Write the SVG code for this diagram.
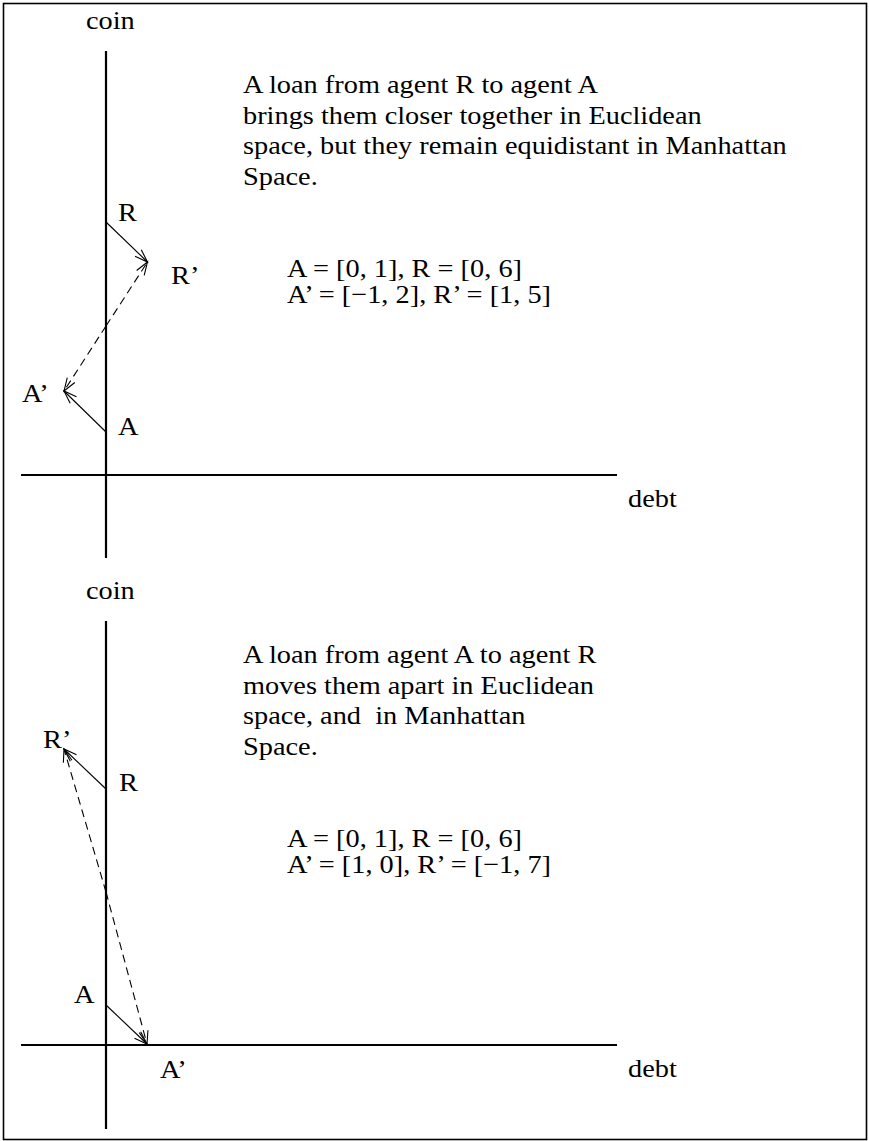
<svg xmlns="http://www.w3.org/2000/svg" width="869" height="1141" viewBox="0 0 869 1141">
<style>
text{font-family:"Liberation Serif","Times New Roman",serif;font-size:26px;fill:#000}
.axis{stroke:#000;stroke-width:2.2;fill:none}
.arr{stroke:#000;stroke-width:1.1;fill:none;marker-end:url(#ah)}
.dash{stroke:#000;stroke-width:1.1;fill:none;stroke-dasharray:8 5;marker-end:url(#ah)}
</style>
<defs>
<marker id="ah" markerUnits="userSpaceOnUse" markerWidth="16" markerHeight="12" viewBox="-1 -6 16 12" refX="13" refY="0" orient="auto">
<path d="M0,-4.5 L13,0 L0,4.5" fill="none" stroke="#000" stroke-width="1.1"/>
</marker>
</defs>
<rect x="3.5" y="3.5" width="863" height="1136" fill="#fff" stroke="#000" stroke-width="1.6"/>
<g id="panel1">
<g id="axes1">
<line class="axis" x1="106" y1="51" x2="106" y2="558"/>
<line class="axis" x1="21" y1="475" x2="617" y2="475"/>
<text transform="translate(86 29) scale(1.09 1)">coin</text>
<text transform="translate(628 507) scale(1.09 1)">debt</text>
</g>
<g id="node-R1"><text transform="translate(118 221) scale(1.09 1)">R</text></g>
<g id="node-Rp1"><text transform="translate(171 284) scale(1.09 1)">R’</text></g>
<g id="node-Ap1"><text transform="translate(22 402) scale(1.09 1)">A’</text></g>
<g id="node-A1"><text transform="translate(118 435) scale(1.09 1)">A</text></g>
<g id="desc1">
<text transform="translate(243 93) scale(1.09 1)">A loan from agent R to agent A</text>
<text transform="translate(243 123.5) scale(1.09 1)">brings them closer together in Euclidean</text>
<text transform="translate(243 154) scale(1.09 1)">space, but they remain equidistant in Manhattan</text>
<text transform="translate(243 184.5) scale(1.09 1)">Space.</text>
<text transform="translate(287 277) scale(1.09 1)">A = [0, 1], R = [0, 6]</text>
<text transform="translate(287 303) scale(1.09 1)">A’ = [−1, 2], R’ = [1, 5]</text>
</g>
<g id="connectors1">
<line class="arr" x1="106" y1="222" x2="147.5" y2="262"/>
<line class="arr" x1="106" y1="432" x2="64" y2="391"/>
<line class="dash" x1="106" y1="326" x2="147.5" y2="262"/>
<line class="dash" x1="106" y1="326" x2="64" y2="391"/>
</g>
</g>
<g id="panel2">
<g id="axes2">
<line class="axis" x1="106" y1="621" x2="106" y2="1129"/>
<line class="axis" x1="21" y1="1045" x2="617" y2="1045"/>
<text transform="translate(86 599) scale(1.09 1)">coin</text>
<text transform="translate(628 1077) scale(1.09 1)">debt</text>
</g>
<g id="node-Rp2"><text transform="translate(43 748) scale(1.09 1)">R’</text></g>
<g id="node-R2"><text transform="translate(119 791) scale(1.09 1)">R</text></g>
<g id="node-A2"><text transform="translate(74 1003) scale(1.09 1)">A</text></g>
<g id="node-Ap2"><text transform="translate(160 1078) scale(1.09 1)">A’</text></g>
<g id="desc2">
<text transform="translate(243 663) scale(1.09 1)">A loan from agent A to agent R</text>
<text transform="translate(243 693.5) scale(1.09 1)">moves them apart in Euclidean</text>
<text transform="translate(243 724) scale(1.09 1)" xml:space="preserve">space, and  in Manhattan</text>
<text transform="translate(243 754.5) scale(1.09 1)">Space.</text>
<text transform="translate(287 847) scale(1.09 1)">A = [0, 1], R = [0, 6]</text>
<text transform="translate(287 873) scale(1.09 1)">A’ = [1, 0], R’ = [−1, 7]</text>
</g>
<g id="connectors2">
<line class="arr" x1="106" y1="789" x2="64" y2="749"/>
<line class="arr" x1="106" y1="1005" x2="147" y2="1044"/>
<line class="dash" x1="106" y1="892" x2="64" y2="749"/>
<line class="dash" x1="106" y1="892" x2="147" y2="1044"/>
</g>
</g>
</svg>
